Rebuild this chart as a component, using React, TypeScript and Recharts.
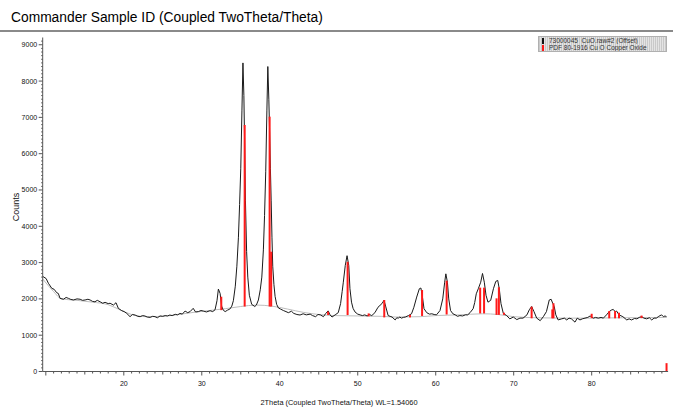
import React from 'react';
import { ComposedChart, Line, XAxis, YAxis, ReferenceLine } from 'recharts';

// Measured pattern (2Theta in degrees, counts)
const twoTheta = [
  9.6, 10.04, 10.33, 10.77, 11.06, 11.4, 11.6, 11.83, 12.26, 12.6, 12.9, 13.2, 13.54, 14.0, 14.4, 14.7,
  15.04, 15.4, 15.68, 16.0, 16.3, 16.6, 16.96, 17.3, 17.6, 18.0, 18.24, 18.67, 19.0, 19.3, 19.74, 20.05,
  20.38, 20.8, 21.1, 21.45, 21.8, 22.1, 22.4, 22.7, 23.0, 23.37, 23.7, 24.0, 24.3, 24.65, 25.0, 25.3,
  25.6, 25.9, 26.2, 26.6, 26.9, 27.2, 27.5, 27.86, 28.2, 28.5, 28.9, 29.2, 29.56, 29.9, 30.2, 30.6,
  31.06, 31.4, 31.7, 31.95, 32.13, 32.35, 32.55, 32.75, 33.0, 33.3, 33.6, 33.85, 34.05, 34.3, 34.5, 34.7,
  34.85, 35.0, 35.15, 35.28, 35.4, 35.5, 35.6, 35.75, 35.9, 36.1, 36.4, 36.8, 37.0, 37.26, 37.5, 37.7,
  37.9, 38.05, 38.2, 38.35, 38.47, 38.6, 38.7, 38.8, 38.9, 39.0, 39.1, 39.25, 39.4, 39.6, 39.83, 40.1,
  40.46, 40.8, 41.1, 41.5, 41.8, 42.2, 42.6, 43.0, 43.4, 43.9, 44.2, 44.6, 44.9, 45.2, 45.6, 45.9,
  46.2, 46.45, 46.7, 47.1, 47.5, 47.8, 48.0, 48.15, 48.4, 48.63, 48.85, 49.0, 49.2, 49.4, 49.65, 50.0,
  50.3, 50.6, 50.9, 51.2, 51.5, 51.8, 52.2, 52.6, 53.1, 53.37, 53.6, 53.9, 54.15, 54.4, 54.8, 55.0,
  55.2, 55.4, 55.6, 55.85, 56.1, 56.5, 56.9, 57.2, 57.56, 57.9, 58.1, 58.3, 58.5, 58.85, 59.2, 59.5,
  59.8, 60.1, 60.55, 60.9, 61.15, 61.3, 61.5, 61.67, 61.9, 62.2, 62.5, 62.8, 63.1, 63.45, 63.8, 64.1,
  64.4, 64.8, 65.0, 65.2, 65.46, 65.77, 66.0, 66.23, 66.45, 66.7, 67.05, 67.4, 67.7, 67.95, 68.15, 68.37,
  68.67, 69.1, 69.5, 69.95, 70.4, 70.8, 71.2, 71.7, 72.0, 72.3, 72.6, 72.95, 73.4, 73.8, 74.2, 74.56,
  74.8, 75.0, 75.2, 75.4, 75.7, 76.15, 76.5, 76.8, 77.1, 77.4, 77.86, 78.15, 78.5, 78.8, 79.14, 79.5,
  79.8, 80.2, 80.5, 80.85, 81.2, 81.5, 81.9, 82.25, 82.5, 82.77, 83.0, 83.2, 83.5, 84.0, 84.5, 84.8,
  85.1, 85.5, 85.8, 86.1, 86.4, 86.7, 87.05, 87.4, 87.7, 88.0, 88.3, 88.6, 88.97, 89.2, 89.4, 89.6,
];
const counts = [
  2620, 2560, 2430, 2290, 2265, 2170, 2150, 2015, 1990, 2040, 2015, 1985, 1970, 2000, 1990, 1960,
  1970, 1990, 1970, 1930, 1920, 1960, 1920, 1880, 1905, 1870, 1880, 1830, 1895, 1740, 1675, 1650,
  1600, 1510, 1570, 1555, 1520, 1510, 1540, 1530, 1500, 1490, 1520, 1510, 1480, 1530, 1520, 1540,
  1530, 1555, 1540, 1575, 1560, 1600, 1580, 1665, 1620, 1650, 1740, 1640, 1650, 1680, 1665, 1640,
  1675, 1650, 1700, 1950, 2270, 2150, 1800, 1690, 1650, 1690, 1720, 1800, 1950, 2350, 2900, 3700,
  4600, 5600, 7200, 8500, 7600, 6200, 4700, 3300, 2600, 2100, 1850, 1790, 1830, 1970, 2250, 2600,
  3350, 4300, 5500, 7200, 8400, 7500, 6600, 5600, 4700, 3700, 2900, 2400, 2070, 1850, 1750, 1720,
  1680, 1650, 1620, 1660, 1600, 1570, 1556, 1590, 1560, 1580, 1540, 1510, 1570, 1560, 1510, 1600,
  1670, 1560, 1500, 1560, 1620, 1870, 2200, 2460, 2920, 3190, 2920, 2280, 1910, 1740, 1640, 1580,
  1560, 1540, 1560, 1530, 1570, 1540, 1620, 1770, 1870, 1960, 1780, 1540, 1520, 1500, 1420, 1480,
  1470, 1500, 1470, 1490, 1500, 1540, 1590, 1770, 2050, 2280, 2300, 2050, 1730, 1620, 1580, 1590,
  1570, 1560, 1680, 2000, 2460, 2690, 2460, 2000, 1680, 1590, 1560, 1520, 1540, 1530, 1560, 1560,
  1620, 1730, 1900, 2140, 2280, 2460, 2700, 2460, 2100, 1910, 1960, 2280, 2480, 2510, 2280, 1870,
  1600, 1540, 1450, 1500, 1430, 1470, 1470, 1560, 1700, 1790, 1650, 1470, 1400, 1510, 1650, 1970,
  1990, 1880, 1790, 1560, 1420, 1450, 1470, 1420, 1470, 1450, 1360, 1470, 1420, 1450, 1470, 1490,
  1530, 1470, 1490, 1470, 1490, 1470, 1560, 1650, 1690, 1710, 1650, 1665, 1560, 1510, 1420, 1450,
  1420, 1460, 1450, 1490, 1510, 1470, 1450, 1480, 1420, 1470, 1470, 1520, 1560, 1510, 1530, 1510,
];

// Background curve
const bgTheta = [9.6, 11, 12, 14, 16, 18, 19.5, 21, 23, 25, 27, 29, 31, 33, 35, 37, 39, 41, 43, 45, 47, 50, 53, 55, 58, 60, 63, 66, 68, 70, 73, 76, 80, 84, 89.6];
const bgCounts = [2550, 2200, 2000, 1960, 1910, 1840, 1700, 1570, 1510, 1520, 1570, 1630, 1680, 1730, 1790, 1830, 1800, 1720, 1630, 1570, 1540, 1530, 1520, 1500, 1510, 1540, 1560, 1590, 1570, 1510, 1480, 1470, 1470, 1480, 1490];

// Reference sticks: PDF 80-1916 CuO
const refTheta = [32.5, 35.5, 38.7, 38.9, 46.2, 48.7, 51.4, 53.4, 56.7, 58.25, 61.4, 65.7, 66.2, 67.8, 68.1, 68.75, 72.3, 74.95, 75.1, 80.0, 82.25, 83.0, 83.5, 86.4, 89.6];
const refTop = [2060, 6790, 7020, 3300, 1650, 3020, 1600, 1970, 1560, 2245, 2500, 2310, 2310, 2015, 2320, 1620, 1785, 1710, 1880, 1590, 1665, 1665, 1620, 1540, 230];
const refBase = [1690, 1790, 1790, 1790, 1556, 1555, 1520, 1490, 1490, 1530, 1570, 1600, 1600, 1560, 1560, 1560, 1465, 1465, 1465, 1470, 1465, 1465, 1465, 1470, 0];

const xLabelTicks = [20, 30, 40, 50, 60, 70, 80];
const yLabelTicks = [0, 1000, 2000, 3000, 4000, 5000, 6000, 7000, 8000, 9000];
const xAllTicks = Array.from({ length: 80 }, (_, i) => 10 + i);
const yAllTicks = Array.from({ length: 92 }, (_, i) => i * 100);

const legendLabels = ['73000045_CuO.raw#2 (Offset)', 'PDF 80-1916 Cu O Copper Oxide'];

const FONT = '"Liberation Sans", Arial, sans-serif';

const patternData = twoTheta.map((x, i) => ({ x, y: counts[i] }));
const bgData = bgTheta.map((x, i) => ({ x, y: bgCounts[i] }));

const XTick = (props: any) => {
  const { x, y, payload } = props;
  const v = payload.value;
  const len = v % 10 === 0 ? 4 : v % 5 === 0 ? 3 : 2;
  return (
    <g>
      <line x1={x} x2={x} y1={y} y2={y + len} stroke="#555" strokeWidth={1} />
      {xLabelTicks.includes(v) && (
        <text x={x} y={y + 14.5} textAnchor="middle" fontSize={7} fill="#111" fontFamily={FONT}>
          {v}
        </text>
      )}
    </g>
  );
};

const YTick = (props: any) => {
  const { x, y, payload } = props;
  const v = payload.value;
  const major = yLabelTicks.includes(v);
  const len = major ? 4 : 1.5;
  return (
    <g>
      <line x1={x - len} x2={x} y1={y} y2={y} stroke="#555" strokeWidth={1} />
      {major && (
        <text x={x - 5.5} y={y + 2.5} textAnchor="end" fontSize={7} fill="#111" fontFamily={FONT}>
          {v}
        </text>
      )}
    </g>
  );
};

export default function App() {
  return (
    <div style={{ position: 'absolute', left: 0, top: 0, width: 673, height: 408, background: '#fff', fontFamily: FONT }}>
      <div style={{ position: 'absolute', left: 11, top: 9, fontSize: 13.8, color: '#000', whiteSpace: 'nowrap', lineHeight: '17px' }}>
        Commander Sample ID (Coupled TwoTheta/Theta)
      </div>
      <div style={{ position: 'absolute', left: 0, top: 30, width: 673, height: 2, background: '#8a8a8a' }} />
      <ComposedChart width={673} height={408} margin={{ top: 37.5, right: 4.9, bottom: 6.5, left: 2.7 }}>
        <XAxis
          type="number"
          dataKey="x"
          domain={[9.6, 89.8]}
          ticks={xAllTicks}
          interval={0}
          tickSize={0}
          tickMargin={0}
          tickLine={false}
          tick={(p: any) => <XTick {...p} />}
          axisLine={{ stroke: '#555' }}
          height={30}
          allowDataOverflow
        />
        <YAxis
          type="number"
          domain={[0, 9200]}
          ticks={yAllTicks}
          interval={0}
          tickSize={0}
          tickMargin={0}
          tickLine={false}
          tick={(p: any) => <YTick {...p} />}
          axisLine={{ stroke: '#555' }}
          width={40}
          allowDataOverflow
        />
        <Line data={bgData} dataKey="y" type="monotone" stroke="#bdbdbd" strokeWidth={1} dot={false} isAnimationActive={false} />
        <Line data={patternData} dataKey="y" type="linear" stroke="#1a1a1a" strokeWidth={1} dot={false} isAnimationActive={false} />
        {refTheta.map((t, i) => (
          <ReferenceLine
            key={i}
            segment={[{ x: t, y: refBase[i] }, { x: t, y: refTop[i] }]}
            stroke="#ff1a1a"
            strokeWidth={2}
            ifOverflow="visible"
          />
        ))}
      </ComposedChart>
      <div
        style={{
          position: 'absolute', left: 538, top: 36, width: 129, height: 16,
          background: 'repeating-linear-gradient(90deg, #c9c9c9 0 1px, #e4e4e4 1px 2px)',
          border: '1px solid #b0b0b0', boxSizing: 'border-box', fontSize: 6.5, color: '#333', lineHeight: '7px',
        }}
      >
        {legendLabels.map((l, i) => (
          <div key={i} style={{ display: 'flex', alignItems: 'center', height: 7, whiteSpace: 'nowrap', overflow: 'hidden' }}>
            <span style={{ display: 'inline-block', width: 2, height: 6, background: i === 0 ? '#111' : '#ff1a1a', margin: '0 5px 0 3px' }} />
            {l}
          </div>
        ))}
      </div>
      <div style={{ position: 'absolute', left: 16, top: 207, transform: 'translate(-50%, -50%) rotate(-90deg)', fontSize: 9, color: '#111', whiteSpace: 'nowrap' }}>
        Counts
      </div>
      <div style={{ position: 'absolute', left: 339, top: 402, transform: 'translate(-50%, -50%)', fontSize: 7.4, color: '#111', whiteSpace: 'nowrap' }}>
        2Theta (Coupled TwoTheta/Theta) WL=1.54060
      </div>
    </div>
  );
}
